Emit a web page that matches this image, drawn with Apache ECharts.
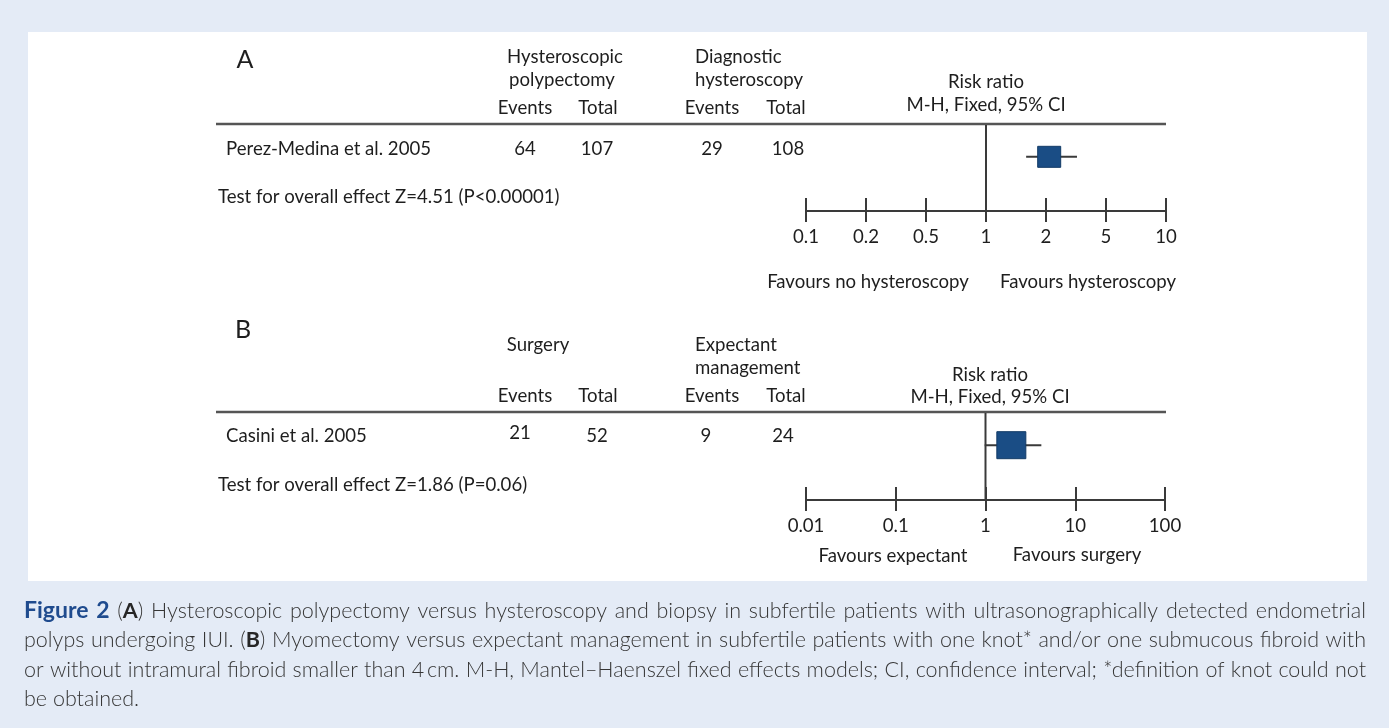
<!DOCTYPE html>
<html><head><meta charset="utf-8">
<script src="https://cdn.jsdelivr.net/npm/echarts@6/dist/echarts.min.js"></script>
<style>html,body{margin:0;padding:0;background:#e4ebf6;}#c{width:1389px;height:728px;}</style>
</head><body><div id="c"></div>
<script>
// ---------------- DATA ----------------
// Panel A
const studiesA = ['Perez-Medina et al. 2005'];
const expEventsA = [64];
const expTotalA = [107];
const ctlEventsA = [29];
const ctlTotalA = [108];
const rrA = [2.1];
const ciLowA = [1.59];
const ciHighA = [3.21];
const ticksA = [0.1, 0.2, 0.5, 1, 2, 5, 10];
const testA = 'Test for overall effect Z=4.51 (P<0.00001)';
const headA = { exp: ['Hysteroscopic', 'polypectomy'], ctl: ['Diagnostic', 'hysteroscopy'] };
const favoursA = ['Favours no hysteroscopy', 'Favours hysteroscopy'];
// Panel B
const studiesB = ['Casini et al. 2005'];
const expEventsB = [21];
const expTotalB = [52];
const ctlEventsB = [9];
const ctlTotalB = [24];
const rrB = [1.94];
const ciLowB = [0.98];
const ciHighB = [4.19];
const ticksB = [0.01, 0.1, 1, 10, 100];
const testB = 'Test for overall effect Z=1.86 (P=0.06)';
const headB = { exp: ['Surgery'], ctl: ['Expectant', 'management'] };
const favoursB = ['Favours expectant', 'Favours surgery'];
// Caption
const captionLines = [
  [{t: 'Figure 2', s: 'f'}, {t: ' (', s: 'n'}, {t: 'A', s: 'b'}, {t: ') Hysteroscopic polypectomy versus hysteroscopy and biopsy in subfertile patients with ultrasonographically detected endometrial', s: 'n'}],
  [{t: 'polyps undergoing IUI. (', s: 'n'}, {t: 'B', s: 'b'}, {t: ') Myomectomy versus expectant management in subfertile patients with one knot* and/or one submucous fibroid with', s: 'n'}],
  [{t: 'or without intramural fibroid smaller than 4\u2009cm. M-H, Mantel\u2013Haenszel fixed effects models; CI, confidence interval; *definition of knot could not', s: 'n'}],
  [{t: 'be obtained.', s: 'n'}]
];

// ---------------- LAYOUT / STYLE ----------------
const FONT = 'Lato';
const TXT = '#1e1e1e';
const LINE = '#3a3a3a';
const FS = 18.6;
const ROW = 0.63; // relative row position inside forest grid

// piecewise-log mapping of a ratio onto the evenly spaced tick index of panel A
function posA(v) {
  for (let i = 0; i < ticksA.length - 1; i++) {
    const a = ticksA[i], b = ticksA[i + 1];
    if (v <= b || i === ticksA.length - 2) {
      return i + Math.log(v / a) / Math.log(b / a);
    }
  }
}

const chart = echarts.init(document.getElementById('c'), null, {renderer: 'canvas'});

function txt(text, x, y, align, extra) {
  return {type: 'text', x: x, y: y, silent: true,
    style: Object.assign({text: text, fill: TXT, fontSize: FS, fontFamily: FONT, align: align || 'center', verticalAlign: 'middle'}, extra || {})};
}
function hline(x1, x2, y) {
  return {type: 'line', silent: true, shape: {x1: x1, y1: y, x2: x2, y2: y}, style: {stroke: '#555', lineWidth: 2.5}};
}

const graphics = [];
graphics.push({type: 'rect', silent: true, z: -10, shape: {x: 28, y: 32, width: 1339, height: 549}, style: {fill: '#ffffff'}});

// Panel A table
graphics.push(txt('A', 245, 60, 'center', {fontSize: 25}));
graphics.push(txt(headA.exp[0], 565, 57));
graphics.push(txt(headA.exp[1], 562, 80));
graphics.push(txt(headA.ctl[0], 695, 57, 'left'));
graphics.push(txt(headA.ctl[1], 695, 80, 'left'));
graphics.push(txt('Events', 525, 108)); graphics.push(txt('Total', 598, 108));
graphics.push(txt('Events', 712, 108)); graphics.push(txt('Total', 786, 108));
graphics.push(txt('Risk ratio', 986, 82));
graphics.push(txt('M-H, Fixed, 95% CI', 986, 105));
graphics.push(hline(216, 1166, 124));
studiesA.forEach((s, i) => {
  const y = 149 + i * 30;
  graphics.push(txt(s, 226, y, 'left'));
  graphics.push(txt(String(expEventsA[i]), 525, y));
  graphics.push(txt(String(expTotalA[i]), 597, y));
  graphics.push(txt(String(ctlEventsA[i]), 712, y));
  graphics.push(txt(String(ctlTotalA[i]), 788, y));
});
graphics.push(txt(testA, 218, 197, 'left'));
graphics.push(txt(favoursA[0], 868, 282));
graphics.push(txt(favoursA[1], 1088, 282));

// Panel B table
graphics.push(txt('B', 243, 330, 'center', {fontSize: 25}));
graphics.push(txt(headB.exp[0], 538, 345));
graphics.push(txt(headB.ctl[0], 695, 345, 'left'));
graphics.push(txt(headB.ctl[1], 695, 368, 'left'));
graphics.push(txt('Events', 525, 396)); graphics.push(txt('Total', 598, 396));
graphics.push(txt('Events', 712, 396)); graphics.push(txt('Total', 786, 396));
graphics.push(txt('Risk ratio', 990, 375));
graphics.push(txt('M-H, Fixed, 95% CI', 990, 397));
graphics.push(hline(216, 1166, 412));
studiesB.forEach((s, i) => {
  const y = 436 + i * 30;
  graphics.push(txt(s, 226, y, 'left'));
  graphics.push(txt(String(expEventsB[i]), 520, y - 3));
  graphics.push(txt(String(expTotalB[i]), 597, y));
  graphics.push(txt(String(ctlEventsB[i]), 706, y));
  graphics.push(txt(String(ctlTotalB[i]), 783, y));
});
graphics.push(txt(testB, 218, 485, 'left'));
graphics.push(txt(favoursB[0], 893, 556));
graphics.push(txt(favoursB[1], 1077, 555));

// Caption, justified
const capStyles = {
  n: {fontWeight: 300, fontSize: 21.5, fontFamily: FONT, fill: '#363636'},
  b: {fontWeight: 700, fontSize: 21.5, fontFamily: FONT, fill: '#262626'},
  f: {fontWeight: 700, fontSize: 23, fontFamily: FONT, fill: '#1f4b8e'}
};
const mctx = document.createElement('canvas').getContext('2d');
function measure(text, st) {
  mctx.font = st.fontWeight + ' ' + st.fontSize + 'px ' + st.fontFamily;
  return mctx.measureText(text).width;
}
const capX0 = 24, capX1 = 1366, capY0 = 611, capDY = 29.5;
captionLines.forEach((runs, li) => {
  const words = [[]];
  runs.forEach(r => {
    r.t.split(' ').forEach((p, k) => {
      if (k > 0) words.push([]);
      if (p) words[words.length - 1].push({t: p, s: r.s});
    });
  });
  const ws = words.filter(w => w.length);
  const widths = ws.map(w => w.reduce((a, r) => a + measure(r.t, capStyles[r.s]), 0));
  const total = widths.reduce((a, b) => a + b, 0);
  const last = li === captionLines.length - 1;
  const gap = last ? measure(' ', capStyles.n) : (capX1 - capX0 - total) / (ws.length - 1);
  let x = capX0;
  const y = capY0 + li * capDY;
  ws.forEach((w) => {
    w.forEach(r => {
      const st = capStyles[r.s];
      graphics.push({type: 'text', x: x, y: y, silent: true,
        style: Object.assign({text: r.t, align: 'left', verticalAlign: 'middle'}, st)});
      x += measure(r.t, st);
    });
    x += gap;
  });
});

// ---------------- CHART ----------------
function forestRender(sizeW, sizeH) {
  return function (params, api) {
    const c = api.coord([api.value(0), ROW]);
    const lo = api.coord([api.value(1), ROW]);
    const hi = api.coord([api.value(2), ROW]);
    return {type: 'group', children: [
      {type: 'line', shape: {x1: lo[0], y1: c[1], x2: hi[0], y2: c[1]}, style: {stroke: LINE, lineWidth: 2}},
      {type: 'rect', shape: {x: c[0] - sizeW / 2, y: c[1] - sizeH / 2, width: sizeW, height: sizeH},
        style: {fill: '#1a4d85', stroke: '#123a66', lineWidth: 1}}
    ]};
  };
}

const axisLab = {color: TXT, fontSize: FS, fontFamily: FONT, margin: 16};
function axesPair(gridIndex, base) {
  const main = Object.assign({gridIndex: gridIndex, position: 'bottom',
    axisLine: {show: true, onZero: false, lineStyle: {color: LINE, width: 2}},
    axisTick: {show: true, inside: true, length: 13, lineStyle: {color: LINE, width: 2}},
    axisLabel: axisLab, splitLine: {show: false}}, base);
  const under = Object.assign({gridIndex: gridIndex, position: 'bottom',
    axisLine: {show: false, onZero: false},
    axisTick: {show: true, inside: false, length: 11, lineStyle: {color: LINE, width: 2}},
    axisLabel: {show: false}, splitLine: {show: false}}, base);
  return [main, under];
}

const baseA = {type: 'value', min: 0, max: ticksA.length - 1, interval: 1};
const baseB = {type: 'log', logBase: 10, min: ticksB[0], max: ticksB[ticksB.length - 1]};

const xa = axesPair(0, baseA);
xa[0].axisLabel = Object.assign({}, axisLab, {formatter: v => String(ticksA[Math.round(v)])});
const xb = axesPair(1, baseB);
xb[0].axisLabel = Object.assign({}, axisLab, {formatter: v => String(+v.toPrecision(3))});

const option = {
  backgroundColor: '#e4ebf6',
  animation: false,
  graphic: graphics,
  grid: [
    {left: 806, top: 125, width: 360, height: 86},
    {left: 806, top: 413, width: 359, height: 87}
  ],
  xAxis: [xa[0], xa[1], xb[0], xb[1]],
  yAxis: [
    {gridIndex: 0, type: 'value', min: 0, max: 1, show: false},
    {gridIndex: 1, type: 'value', min: 0, max: 1, show: false}
  ],
  series: [
    {type: 'line', xAxisIndex: 0, yAxisIndex: 0, symbol: 'none', silent: true,
      lineStyle: {color: LINE, width: 2}, data: [[posA(1), 0], [posA(1), 1]]},
    {type: 'custom', xAxisIndex: 0, yAxisIndex: 0, renderItem: forestRender(23, 21),
      data: rrA.map((r, i) => [posA(r), posA(ciLowA[i]), posA(ciHighA[i])])},
    {type: 'line', xAxisIndex: 2, yAxisIndex: 1, symbol: 'none', silent: true,
      lineStyle: {color: LINE, width: 2}, data: [[1, 0], [1, 1]]},
    {type: 'custom', xAxisIndex: 2, yAxisIndex: 1, renderItem: forestRender(29, 27),
      data: rrB.map((r, i) => [r, ciLowB[i], ciHighB[i]])}
  ]
};
chart.setOption(option);
</script>
</body></html>
